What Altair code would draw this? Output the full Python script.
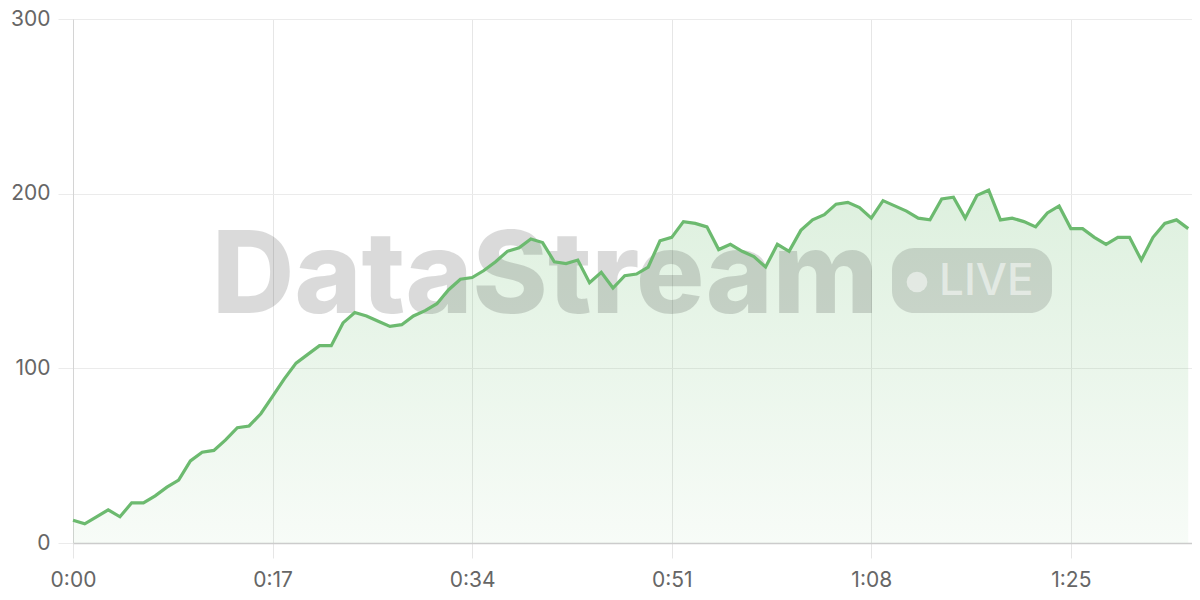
import altair as alt
import pandas as pd

# ---- data ----
seconds = list(range(96))
values = [13, 11, 15, 19, 15, 23, 23, 27, 32, 36,
          47, 52, 53, 59, 66, 67, 74, 84, 94, 103,
          108, 113, 113, 126, 132, 130, 127, 124, 125, 130,
          133, 137, 145, 151, 152, 156, 161, 167, 169, 174,
          172, 161, 160, 162, 149, 155, 146, 153, 154, 158,
          173, 175, 184, 183, 181, 168, 171, 167, 164, 158,
          171, 167, 179, 185, 188, 194, 195, 192, 186, 196,
          193, 190, 186, 185, 197, 198, 186, 199, 202, 185,
          186, 184, 181, 189, 193, 180, 180, 175, 171, 175,
          175, 162, 175, 183, 185, 180]
x_tick_values = [0, 17, 34, 51, 68, 85]
x_tick_labels = ["0:00", "0:17", "0:34", "0:51", "1:08", "1:25"]
y_tick_values = [0, 100, 200, 300]
watermark_text = ["DataStream"]
badge_text = ["LIVE"]

df = pd.DataFrame({"t": seconds, "v": values})

W, H = 1119, 524
X_MAX = 95.32
GREEN = "#6cba6f"
FONT = "Inter"

label_expr = "[" + ",".join(f"'{s}'" for s in x_tick_labels) + "][indexof([" + \
    ",".join(str(v) for v in x_tick_values) + "], datum.value)]"

x_enc = alt.X("t:Q", scale=alt.Scale(domain=[0, X_MAX], nice=False, zero=False),
              axis=alt.Axis(values=x_tick_values, labelExpr=label_expr, title=None,
                            grid=True, gridColor="#e6e6e6", tickColor="#e6e6e6",
                            tickSize=15, domainColor="#cccccc", domainWidth=1.5,
                            labelPadding=11, labelFontSize=21, labelColor="#666666",
                            labelFont=FONT, labelFlush=False))
y_enc = alt.Y("v:Q", scale=alt.Scale(domain=[0, 300], nice=False),
              axis=alt.Axis(values=y_tick_values, title=None, grid=True,
                            gridColor="#ebebeb", tickColor="#ebebeb", tickSize=15,
                            domainColor="#d4d4d4", labelPadding=8, labelFontSize=21,
                            labelColor="#666666", labelFont=FONT))

area = alt.Chart(df).mark_area(
    interpolate="linear",
    color=alt.Gradient(
        gradient="linear",
        stops=[alt.GradientStop(color="rgba(102,187,106,0.22)", offset=0),
               alt.GradientStop(color="rgba(102,187,106,0.05)", offset=1)],
        x1=1, x2=1, y1=0, y2=1),
).encode(x=x_enc, y=y_enc)

wm_df = pd.DataFrame({"s": watermark_text})
wm = alt.Chart(wm_df).mark_text(
    font=FONT, fontSize=114, fontWeight=800, align="left", baseline="alphabetic",
    color="#000000", opacity=0.14,
).encode(x=alt.value(139), y=alt.value(294), text="s:N")

badge = alt.Chart(wm_df).mark_rect(
    cornerRadius=22, color="#000000", opacity=0.13,
).encode(x=alt.value(819), x2=alt.value(979), y=alt.value(229), y2=alt.value(294))

dot = alt.Chart(wm_df).mark_circle(
    size=430, color="#ffffff", opacity=0.5,
).encode(x=alt.value(844), y=alt.value(263))

live_df = pd.DataFrame({"s": badge_text})
live = alt.Chart(live_df).mark_text(
    font=FONT, fontSize=44, fontWeight=500, align="left", baseline="alphabetic",
    color="#ffffff", opacity=0.5,
).encode(x=alt.value(866), y=alt.value(276), text="s:N")

line = alt.Chart(df).mark_line(
    interpolate="linear", color=GREEN, strokeWidth=3.2,
).encode(x=x_enc, y=y_enc)

chart = alt.layer(area, wm, badge, dot, live, line).properties(
    width=W, height=H,
    autosize=alt.AutoSizeParams(type="none"),
    padding={"left": 65, "top": 11, "right": 0, "bottom": 52},
).configure_view(strokeWidth=0).configure(background="#ffffff")

chart.save("out.html", embed_options={"renderer": "svg", "actions": False})
